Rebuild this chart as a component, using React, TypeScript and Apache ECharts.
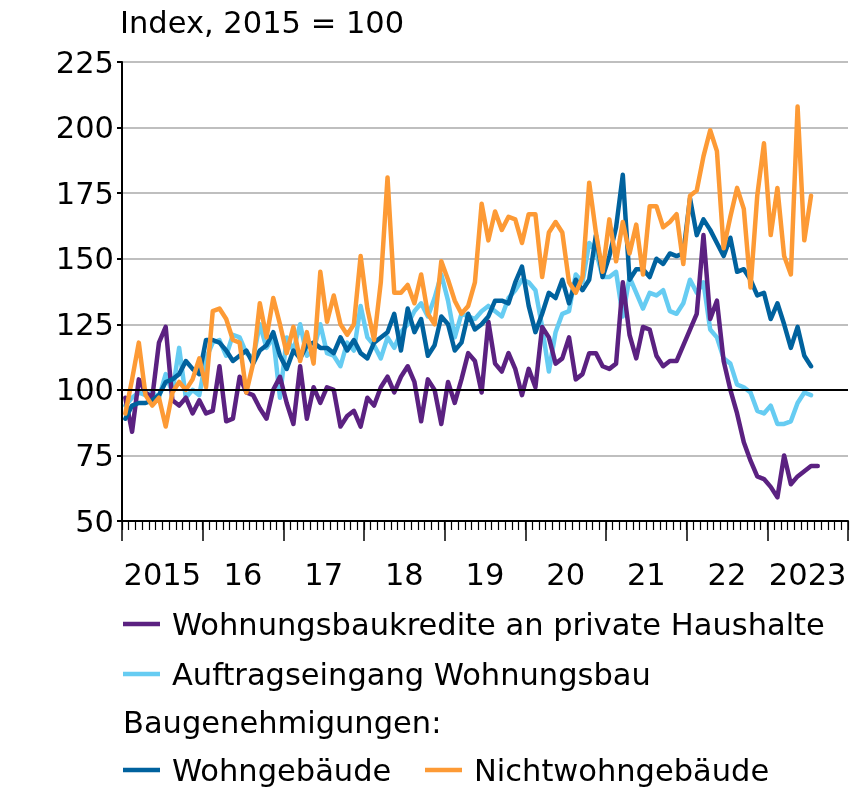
import React, { useEffect, useRef } from "react";
import * as echarts from "echarts";

// Monthly data, Jan 2015 onwards (index, 2015 = 100)
const yearLabels = ["2015", "16", "17", "18", "19", "20", "21", "22", "2023"];
const monthsTotal = 108;
const monthSlots = Array.from({ length: monthsTotal }, () => "");

const kredite = [
  97, 84, 104, 99, 97, 118, 124, 96, 94, 97, 91, 96,
  91, 92, 109, 88, 89, 105, 99, 98, 93, 89, 100, 105,
  95, 87, 109, 89, 101, 95, 101, 100, 86, 90, 92, 86,
  97, 94, 101, 105, 99, 105, 109, 103, 88, 104, 100, 87,
  103, 95, 104, 114, 111, 99, 126, 110, 107, 114, 108, 98,
  108, 101, 124, 120, 110, 112, 120, 104, 106, 114, 114, 109,
  108, 110, 141, 121, 112, 124, 123, 113, 109, 111, 111, 117,
  123, 129, 159, 127, 134, 111, 100, 91, 80, 73, 67, 66,
  63, 59, 75, 64, 67, 69, 71, 71,
];

const auftrag = [
  94, 97, 99, 98, 99, 97, 106, 99, 116, 97, 100, 98,
  112, 118, 119, 113, 121, 120, 114, 112, 125, 116, 120, 97,
  120, 115, 125, 113, 115, 125, 114, 113, 109, 118, 115, 132,
  120, 117, 112, 120, 116, 122, 125, 130, 133, 128, 135, 144,
  134, 120, 129, 128, 127, 130, 132, 130, 128, 135, 138, 142,
  141, 138, 124, 107, 122, 129, 130, 144, 141, 156, 153, 143,
  143, 145, 128, 143, 137, 131, 137, 136, 138, 130, 129, 133,
  142, 137, 141, 123, 120, 112, 110, 102, 101, 99, 92, 91,
  94, 87, 87, 88, 95, 99, 98,
];

const wohngebaeude = [
  89, 94, 95, 95, 96, 98, 103, 104, 106, 111, 108, 106,
  119, 119, 118, 115, 111, 113, 115, 110, 115, 117, 122, 113,
  108, 115, 112, 117, 118, 116, 116, 114, 120, 115, 119, 114,
  112, 118, 120, 122, 129, 115, 131, 122, 127, 113, 117, 128,
  125, 115, 118, 129, 123, 125, 128, 134, 134, 133, 141, 147,
  132, 122, 129, 137, 135, 142, 133, 142, 138, 142, 159, 143,
  151, 162, 182, 142, 146, 146, 143, 150, 148, 152, 151, 152,
  173, 159, 165, 161, 156, 151, 158, 145, 146, 142, 136, 137,
  127, 133, 125, 116, 124, 113, 109,
];

const nichtwohngebaeude = [
  91, 104, 118, 98, 94, 97, 86, 99, 103, 100, 104, 112,
  101, 130, 131, 127, 119, 118, 99, 110, 133, 120, 135, 125,
  114, 124, 111, 122, 110, 145, 126, 136, 125, 121, 125, 151,
  131, 119, 141, 181, 137, 137, 140, 133, 144, 129, 125, 149,
  142, 134, 129, 132, 141, 171, 157, 168, 161, 166, 165, 156,
  167, 167, 143, 160, 164, 160, 141, 137, 143, 179, 160, 145,
  165, 149, 164, 152, 163, 144, 170, 170, 162, 164, 167, 148,
  174, 176, 189, 199, 191, 154, 166, 177, 169, 139, 174, 194,
  159, 177, 151, 144, 208, 157, 174,
];

const seriesNames = [
  "Wohnungsbaukredite an private Haushalte",
  "Auftragseingang Wohnungsbau",
  "Wohngebäude",
  "Nichtwohngebäude",
];
const colors = ["#5b2181", "#66ccf2", "#00629e", "#fd9a35"];

const FONT = "DejaVu Sans";
const FS = 30.5;

const toPoints = (arr: number[]) => arr.map((v, i) => [i + 0.5, v]);

export default function App() {
  const ref = useRef<HTMLDivElement>(null);

  useEffect(() => {
    if (!ref.current) return;
    const chart = echarts.init(ref.current, null, { renderer: "svg" });

    const lineSeries = (name: string, data: number[], color: string) => ({
      name,
      type: "line",
      xAxisIndex: 0,
      yAxisIndex: 0,
      data: toPoints(data),
      showSymbol: false,
      symbol: "none",
      lineStyle: { color, width: 4.5, cap: "round", join: "round" },
      itemStyle: { color },
      silent: true,
    });

    const legendLine = (x: number, y: number, color: string) => ({
      type: "line",
      shape: { x1: x, y1: y, x2: x + 37, y2: y },
      style: { stroke: color, lineWidth: 4.5 },
    });
    const legendText = (x: number, y: number, text: string) => ({
      type: "text",
      x,
      y,
      style: {
        text,
        fill: "#000",
        font: `${FS}px "${FONT}"`,
        textVerticalAlign: "middle",
        verticalAlign: "middle",
      },
    });

    chart.setOption({
      animation: false,
      textStyle: { fontFamily: FONT },
      grid: { left: 122, right: 18, top: 62, bottom: 268, containLabel: false },
      xAxis: [
        {
          type: "value",
          min: 0,
          max: monthsTotal,
          interval: 12,
          position: "bottom",
          axisLine: { show: true, onZero: false, lineStyle: { color: "#000", width: 2 } },
          axisTick: { show: true, inside: false, length: 20, lineStyle: { color: "#000", width: 1.5 } },
          axisLabel: { show: false },
          splitLine: { show: false },
        },
        {
          type: "category",
          data: yearLabels,
          boundaryGap: true,
          position: "bottom",
          offset: 0,
          axisLine: { show: false },
          axisTick: { show: false },
          splitLine: { show: false },
          axisLabel: {
            show: true,
            interval: 0,
            color: "#000",
            fontSize: FS,
            fontFamily: FONT,
            margin: 38,
          },
        },
        {
          type: "category",
          data: monthSlots,
          boundaryGap: true,
          position: "bottom",
          offset: 0,
          axisLine: { show: false },
          axisTick: {
            show: true,
            interval: 0,
            inside: false,
            length: 9,
            lineStyle: { color: "#000", width: 1.2 },
          },
          axisLabel: { show: false, interval: 0 },
          splitLine: { show: false },
        },
      ],
      yAxis: {
        type: "value",
        min: 50,
        max: 225,
        interval: 25,
        axisLine: { show: true, onZero: false, lineStyle: { color: "#000", width: 2 } },
        axisTick: { show: true, length: 5, lineStyle: { color: "#000", width: 2 } },
        axisLabel: { color: "#000", fontSize: FS, fontFamily: FONT, margin: 8 },
        splitLine: { show: true, lineStyle: { color: "#bfbfbf", width: 2 } },
      },
      series: [
        {
          name: "ref100",
          type: "line",
          data: [],
          silent: true,
          markLine: {
            silent: true,
            symbol: "none",
            label: { show: false },
            lineStyle: { color: "#000", width: 2, type: "solid" },
            data: [{ yAxis: 100 }],
          },
        },
        lineSeries(seriesNames[1], auftrag, colors[1]),
        lineSeries(seriesNames[0], kredite, colors[0]),
        lineSeries(seriesNames[2], wohngebaeude, colors[2]),
        lineSeries(seriesNames[3], nichtwohngebaeude, colors[3]),
      ],
      graphic: [
        {
          type: "text",
          left: 120,
          top: 7,
          style: { text: "Index, 2015 = 100", fill: "#000", font: `${FS}px "${FONT}"` },
        },
        legendLine(123, 624, colors[0]),
        legendText(172, 624, seriesNames[0]),
        legendLine(123, 674, colors[1]),
        legendText(172, 674, seriesNames[1]),
        legendText(123, 722, "Baugenehmigungen:"),
        legendLine(123, 770, colors[2]),
        legendText(172, 770, seriesNames[2]),
        legendLine(425, 770, colors[3]),
        legendText(474, 770, seriesNames[3]),
      ],
    });

    return () => chart.dispose();
  }, []);

  return (
    <div
      ref={ref}
      style={{ position: "fixed", left: 0, top: 0, width: 866, height: 789 }}
    />
  );
}
